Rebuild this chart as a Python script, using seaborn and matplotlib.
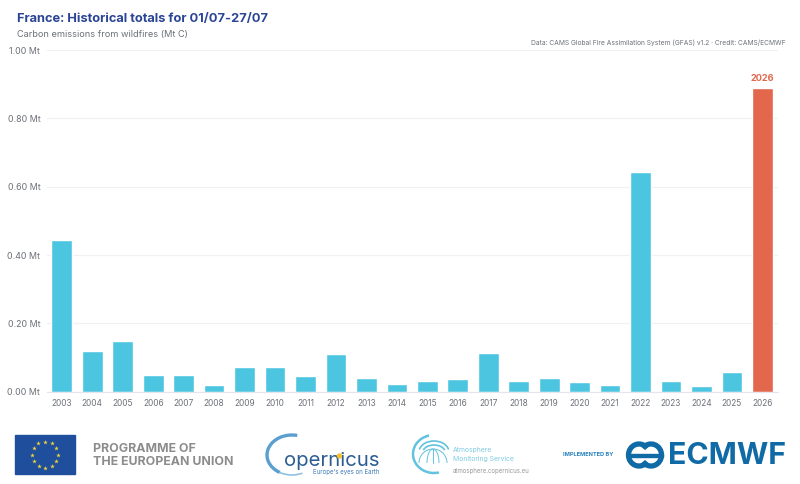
import numpy as np
import pandas as pd
import matplotlib
matplotlib.use("Agg")
import matplotlib.pyplot as plt
from matplotlib.patches import Arc, Rectangle, Circle
import seaborn as sns

years = [str(y) for y in range(2003, 2027)]
emissions = [0.444, 0.120, 0.150, 0.050, 0.048, 0.021, 0.073, 0.072, 0.047, 0.110, 0.040, 0.022,
             0.033, 0.037, 0.113, 0.031, 0.041, 0.029, 0.021, 0.642, 0.031, 0.016, 0.059, 0.888]
y_ticks = [0.0, 0.2, 0.4, 0.6, 0.8, 1.0]
y_labels = ["0.00 Mt", "0.20 Mt", "0.40 Mt", "0.60 Mt", "0.80 Mt", "1.00 Mt"]

BLUE = "#4cc5e0"
RED = "#e2674c"
GREY = "#6d7178"

sns.set_style("white")
plt.rcParams["font.family"] = ["Inter", "DejaVu Sans"]

df = pd.DataFrame({"year": years, "value": emissions})
df["current"] = df["year"] == "2026"

fig = plt.figure(figsize=(8, 4.84), dpi=100)
ax = fig.add_axes([46.6 / 800, 1 - 391.8 / 484, 731 / 800, 341.8 / 484])
sns.barplot(data=df, x="year", y="value", hue="current", palette={False: BLUE, True: RED},
            dodge=False, width=0.68, legend=False, saturation=1, ax=ax)

ax.set_xlim(-0.5, 23.5)
ax.set_ylim(0, 1)
ax.set_xlabel("")
ax.set_ylabel("")
ax.set_yticks(y_ticks)
ax.set_yticklabels(y_labels)
ax.tick_params(axis="both", length=0, labelcolor=GREY)
ax.tick_params(axis="x", pad=5, labelsize=6.0)
ax.tick_params(axis="y", pad=4.5, labelsize=6.4)
ax.grid(axis="y", color="#f0f1f3", lw=0.9)
ax.set_axisbelow(True)
sns.despine(ax=ax, left=True, top=True, right=True)
ax.spines["bottom"].set_color("#e3e6ec")
ax.text(23, emissions[-1] + 0.015, "2026", color=RED, fontsize=6.6, fontweight="bold", ha="center", va="bottom")

# overlay in pixel coordinates for the header and logo strip
ov = fig.add_axes([0, 0, 1, 1], facecolor="none")
ov.set_xlim(0, 800)
ov.set_ylim(484, 0)
ov.axis("off")

ov.text(17, 19, "France: Historical totals for 01/07-27/07", color="#2b4596", fontsize=9.25, fontweight="bold", va="center")
ov.text(17, 34, "Carbon emissions from wildfires (Mt C)", color=GREY, fontsize=6.65, va="center")
ov.text(786, 43, "Data: CAMS Global Fire Assimilation System (GFAS) v1.2 · Credit: CAMS/ECMWF", color=GREY,
        fontsize=4.8, ha="right", va="center")

# EU flag
ov.add_patch(Rectangle((15, 435), 60, 39, color="#1f4f9c"))
star_angles = np.deg2rad(np.arange(0, 360, 30))
ov.scatter(45 + 13 * np.cos(star_angles), 454.5 + 13 * np.sin(star_angles), marker="*", s=12, color="#f0d63c", lw=0)
ov.text(93, 448.5, "PROGRAMME OF", color="#8c8c8c", fontsize=8.9, fontweight="bold", va="center")
ov.text(93, 462, "THE EUROPEAN UNION", color="#8c8c8c", fontsize=8.9, fontweight="bold", va="center")

# Copernicus
ov.add_patch(Arc((292, 455), 50, 40, theta1=125, theta2=285, color="#5a9fd0", lw=2.4))
ov.add_patch(Arc((292, 455), 50, 40, theta1=60, theta2=125, color="#8fc2e2", lw=1.2))
ov.text(284, 461.5, "opernicus", color="#2c5d92", fontsize=14.6, va="center")
ov.add_patch(Circle((339.5, 456), 2, color="#f2c230", zorder=5))
ov.text(313, 472, "Europe's eyes on Earth", color="#3f7cb5", fontsize=4.4, va="center")

# Atmosphere service
ov.add_patch(Arc((434, 454), 42, 38, theta1=75, theta2=255, color="#62c3de", lw=1.8))
for w, h in [(30, 22), (22, 14)]:
    ov.add_patch(Arc((434, 452), w, h, theta1=190, theta2=350, color="#62c3de", lw=1.2))
ov.add_patch(Arc((433, 463), 28, 28, theta1=180, theta2=360, color="#62c3de", lw=0.7))
ov.add_patch(Arc((433, 463), 12, 28, theta1=180, theta2=360, color="#62c3de", lw=0.7))
ov.plot([433, 433], [449, 463], color="#62c3de", lw=0.7)
ov.text(453, 450, "Atmosphere", color="#7fcbe2", fontsize=4.9, va="center")
ov.text(453, 458.5, "Monitoring Service", color="#7fcbe2", fontsize=4.9, va="center")
ov.text(453, 471.5, "atmosphere.copernicus.eu", color="#9a9a9a", fontsize=4.4, va="center")

# ECMWF
ov.text(563, 455, "IMPLEMENTED BY", color="#2b83bf", fontsize=4.05, fontweight="bold", va="center")
ov.add_patch(Arc((639, 455), 21, 22, theta1=40, theta2=320, color="#0f6aa6", lw=3.8))
ov.add_patch(Arc((651, 455), 21, 22, theta1=220, theta2=140, color="#0f6aa6", lw=3.8))
ov.add_patch(Rectangle((627, 453.5), 36, 3, color="#0f6aa6"))
ov.text(668, 455.5, "ECMWF", color="#0f6aa6", fontsize=21.8, fontweight="bold", va="center")

fig.savefig("out.png", dpi=100)
